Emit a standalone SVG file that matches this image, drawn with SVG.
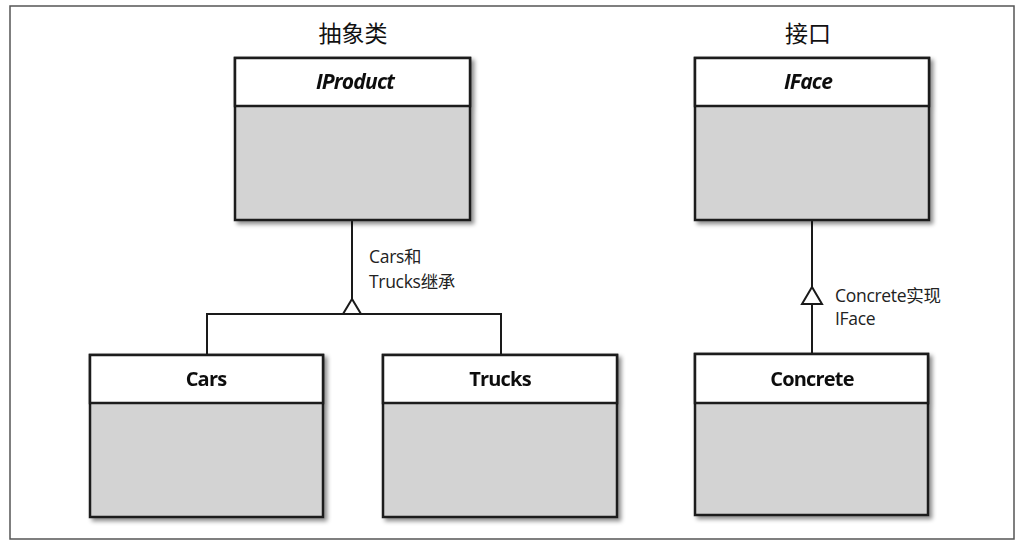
<svg xmlns="http://www.w3.org/2000/svg" width="1027" height="549" viewBox="0 0 1027 549">
<style>
.frame{fill:#fff;stroke:#555;stroke-width:1.5}
.hdr{fill:#fff;stroke:#1a1a1a;stroke-width:2.5}
.body{fill:#d3d3d3;stroke:#1a1a1a;stroke-width:2.5}
.name{font-family:"Open Sans","Liberation Sans",sans-serif;font-weight:bold;font-size:20px;fill:#111;text-anchor:middle;letter-spacing:-0.8px}
.it{font-style:italic;font-size:21px}
.title{font-family:"Noto Sans CJK SC",sans-serif;font-size:23px;fill:#111;text-anchor:middle}
.lbl{font-family:"Open Sans","Noto Sans CJK SC",sans-serif;font-size:17.5px;fill:#222;letter-spacing:-0.3px}
.conn{fill:none;stroke:#1a1a1a;stroke-width:2}
.tri{fill:#fff;stroke:#1a1a1a;stroke-width:2;stroke-linejoin:miter}
</style>
<defs>
<filter id="sh" x="-10%" y="-10%" width="130%" height="130%">
<feDropShadow dx="3" dy="3" stdDeviation="2" flood-color="#000" flood-opacity="0.45"/>
</filter>
</defs>
<rect class="frame" x="10" y="6" width="1004" height="533"/>
<text class="title" x="353" y="42">抽象类</text>
<text class="title" x="808" y="42">接口</text>
<g id="connectors">
<line class="conn" x1="352" y1="220" x2="352" y2="300"/>
<polyline class="conn" points="207,355 207,314 501,314 501,355"/>
<polygon class="tri" points="352,299 343,314 361,314"/>
<line class="conn" x1="812" y1="220" x2="812" y2="354"/>
<polygon class="tri" points="812,287 802,304 822,304"/>
</g>
<g id="IProduct" filter="url(#sh)">
<rect class="body" x="235" y="58" width="235" height="162"/>
<rect class="hdr" x="235" y="58" width="235" height="48"/>
<text class="name it" x="355" y="89">IProduct</text>
</g>
<g id="IFace" filter="url(#sh)">
<rect class="body" x="695" y="58" width="234" height="162"/>
<rect class="hdr" x="695" y="58" width="234" height="48"/>
<text class="name it" x="808" y="89">IFace</text>
</g>
<g id="Cars" filter="url(#sh)">
<rect class="body" x="90" y="355" width="233" height="162"/>
<rect class="hdr" x="90" y="355" width="233" height="48"/>
<text class="name" x="206" y="386">Cars</text>
</g>
<g id="Trucks" filter="url(#sh)">
<rect class="body" x="383" y="355" width="234" height="162"/>
<rect class="hdr" x="383" y="355" width="234" height="48"/>
<text class="name" x="500" y="386">Trucks</text>
</g>
<g id="Concrete" filter="url(#sh)">
<rect class="body" x="695" y="354" width="233" height="161"/>
<rect class="hdr" x="695" y="354" width="233" height="49"/>
<text class="name" x="812" y="386">Concrete</text>
</g>
<g id="labels">
<text class="lbl" x="369" y="263">Cars和</text>
<text class="lbl" x="369" y="288">Trucks继承</text>
<text class="lbl" x="835" y="302">Concrete实现</text>
<text class="lbl" x="835" y="325">IFace</text>
</g>
</svg>
